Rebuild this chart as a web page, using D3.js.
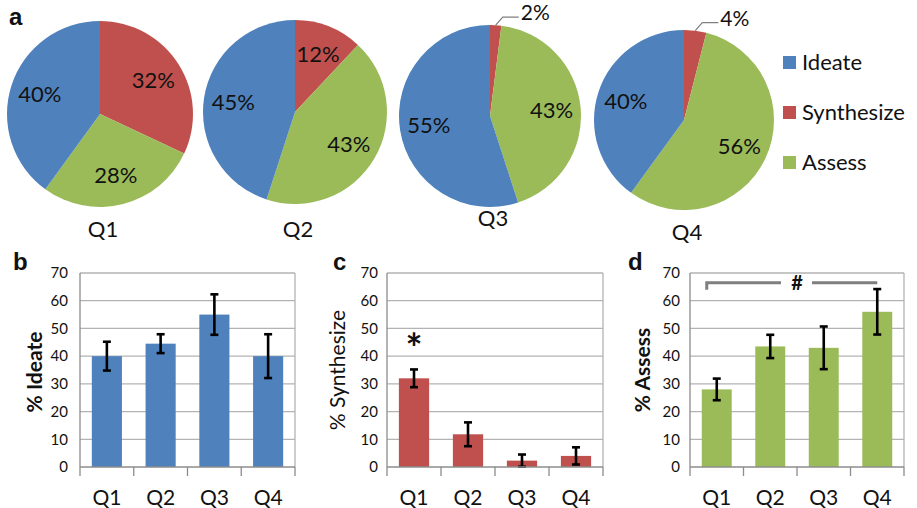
<!DOCTYPE html>
<html>
<head>
<meta charset="utf-8">
<script src="https://cdn.jsdelivr.net/npm/d3@7"></script>
<style>
  html, body { margin: 0; padding: 0; background: #fff; }
  svg { display: block; }
  text { font-family: Lato, "Open Sans", sans-serif; fill: #111; }
  .panel { font-family: "Liberation Sans", Arial, sans-serif; font-weight: bold; font-size: 24px; }
</style>
</head>
<body>
<svg id="chart" width="917" height="508"></svg>
<script>
// ---- data ----
const quarters = ["Q1", "Q2", "Q3", "Q4"];
const activities = ["Ideate", "Synthesize", "Assess"];

// share of each activity per question (pie charts), percent
const ideatePct = [40, 45, 55, 40];
const synthesizePct = [32, 12, 2, 4];
const assessPct = [28, 43, 43, 56];

// mean percent and error (±) per question (bar charts)
const ideateMean = [40, 44.5, 55, 40];
const ideateErr = [5.2, 3.4, 7.3, 7.9];
const synthesizeMean = [32, 11.8, 2.3, 4];
const synthesizeErr = [3.2, 4.3, 2.2, 3.1];
const assessMean = [28, 43.5, 43, 56];
const assessErr = [3.9, 4.2, 7.7, 8.2];

const yTicks = [0, 10, 20, 30, 40, 50, 60, 70];

const colors = { Ideate: "#4F81BD", Synthesize: "#C0504D", Assess: "#9BBB59" };

const svg = d3.select("#chart");

// ---- panel a: pie charts ----
const pieLayout = [
  { cx: 100, cy: 114, r: 93, labelY: 237 },
  { cx: 295, cy: 112, r: 92, labelY: 237 },
  { cx: 490, cy: 116, r: 91, labelY: 226 },
  { cx: 684, cy: 120, r: 90, labelY: 240 }
];

// clockwise from 12 o'clock: Synthesize, Assess, Ideate
const pie = d3.pie().sort(null).value(d => d.value);

quarters.forEach((q, i) => {
  const L = pieLayout[i];
  const slices = pie([
    { key: "Synthesize", value: synthesizePct[i] },
    { key: "Assess", value: assessPct[i] },
    { key: "Ideate", value: ideatePct[i] }
  ]);
  const g = svg.append("g").attr("transform", `translate(${L.cx},${L.cy})`);
  const arc = d3.arc().innerRadius(0).outerRadius(L.r);
  const labelArc = d3.arc().innerRadius(L.r * 0.68).outerRadius(L.r * 0.68);

  g.selectAll("path").data(slices).join("path")
    .attr("d", arc)
    .attr("fill", d => colors[d.data.key]);

  slices.forEach(d => {
    const txt = d.data.value + "%";
    if (d.data.value >= 8) {
      const [x, y] = labelArc.centroid(d);
      g.append("text").attr("x", x).attr("y", y).attr("dy", "0.35em")
        .attr("text-anchor", "middle").attr("font-size", 22).text(txt);
    } else {
      // small slice: label outside with a leader line
      const mid = (d.startAngle + d.endAngle) / 2;
      const x0 = Math.sin(mid) * L.r, y0 = -Math.cos(mid) * L.r;
      const x1 = x0 + 7, y1 = y0 - 8;
      const x2 = x1 + 16;
      const yl = Math.min(y1, -L.r - 1);
      g.append("path")
        .attr("d", `M${x0},${y0}L${x1},${yl}L${x2},${yl}`)
        .attr("fill", "none").attr("stroke", "#7f7f7f").attr("stroke-width", 1.2);
      g.append("text").attr("x", x2 + 2).attr("y", yl + 3)
        .attr("font-size", 21).text(txt);
    }
  });

  svg.append("text").attr("x", L.cx + 3).attr("y", L.labelY)
    .attr("text-anchor", "middle").attr("font-size", 22).text(q);
});

// legend
const legend = svg.append("g");
activities.forEach((a, i) => {
  const ly = 62 + i * 50;
  legend.append("rect").attr("x", 783).attr("y", ly - 6).attr("width", 13).attr("height", 13)
    .attr("fill", colors[a]);
  legend.append("text").attr("x", 802).attr("y", ly).attr("dy", "0.36em")
    .attr("font-size", 22).text(a);
});

svg.append("text").attr("class", "panel").attr("x", 9).attr("y", 25).text("a");

// ---- panels b, c, d: bar charts ----
const plotTop = 273, plotBottom = 467;
const y = d3.scaleLinear().domain([0, 70]).range([plotBottom, plotTop]);

function barChart(opts) {
  const x = d3.scaleBand().domain(quarters).range([opts.left, opts.right]).paddingInner(0.44).paddingOuter(0.22);
  const g = svg.append("g");

  // gridlines
  g.selectAll("line.grid").data(yTicks.filter(t => t > 0)).join("line")
    .attr("class", "grid")
    .attr("x1", opts.left).attr("x2", opts.right)
    .attr("y1", d => y(d)).attr("y2", d => y(d))
    .attr("stroke", "#b3b3b3").attr("stroke-width", 1.3);
  // right border of plot area
  g.append("line").attr("x1", opts.right).attr("x2", opts.right)
    .attr("y1", plotTop).attr("y2", plotBottom).attr("stroke", "#b3b3b3").attr("stroke-width", 1.3);

  // bars
  g.selectAll("rect.bar").data(quarters).join("rect")
    .attr("class", "bar")
    .attr("x", d => x(d)).attr("width", x.bandwidth())
    .attr("y", (d, i) => y(opts.mean[i]))
    .attr("height", (d, i) => plotBottom - y(opts.mean[i]))
    .attr("fill", opts.color);

  // error bars
  const eb = g.selectAll("g.err").data(quarters).join("g")
    .attr("class", "err")
    .attr("transform", d => `translate(${x(d) + x.bandwidth() / 2},0)`);
  eb.append("line")
    .attr("y1", (d, i) => y(opts.mean[i] - opts.err[i]))
    .attr("y2", (d, i) => y(opts.mean[i] + opts.err[i]))
    .attr("stroke", "#000").attr("stroke-width", 2.6);
  [-1, 1].forEach(s => {
    eb.append("line").attr("x1", -4).attr("x2", 4)
      .attr("y1", (d, i) => y(opts.mean[i] + s * opts.err[i]))
      .attr("y2", (d, i) => y(opts.mean[i] + s * opts.err[i]))
      .attr("stroke", "#000").attr("stroke-width", 2.6);
  });

  // y axis
  const yAxis = g.append("g").attr("transform", `translate(${opts.left},0)`)
    .call(d3.axisLeft(y).tickValues(yTicks).tickSize(0).tickPadding(opts.tickPad));
  yAxis.select(".domain").attr("stroke", "#8c8c8c").attr("stroke-width", 1.3)
    .attr("d", `M0,${plotTop}V${plotBottom + 9}`);
  yAxis.selectAll("text").attr("font-family", "Lato, sans-serif").attr("font-size", 15).attr("fill", "#111");

  // x axis with ticks between categories
  const xAxis = g.append("g").attr("transform", `translate(0,${plotBottom})`);
  xAxis.append("line").attr("x1", opts.left).attr("x2", opts.right)
    .attr("stroke", "#8c8c8c").attr("stroke-width", 1.3);
  const step = x.step();
  xAxis.selectAll("line.tk").data(quarters).join("line")
    .attr("class", "tk")
    .attr("x1", d => x(d) + x.bandwidth() / 2 + step / 2)
    .attr("x2", d => x(d) + x.bandwidth() / 2 + step / 2)
    .attr("y1", 0).attr("y2", 9).attr("stroke", "#8c8c8c").attr("stroke-width", 1.3);
  xAxis.selectAll("text.cat").data(quarters).join("text")
    .attr("class", "cat")
    .attr("x", d => x(d) + x.bandwidth() / 2).attr("y", 38)
    .attr("text-anchor", "middle").attr("font-size", 21).text(d => d);

  // y title
  svg.append("text")
    .attr("transform", `translate(${opts.titleX},${opts.titleY}) rotate(-90)`)
    .attr("text-anchor", "middle").attr("font-size", 21)
    .attr("font-weight", opts.titleWeight).text(opts.title);

  svg.append("text").attr("class", "panel").attr("x", opts.letterX).attr("y", 270).text(opts.letter);
  return x;
}

barChart({ left: 80, right: 295, mean: ideateMean, err: ideateErr, color: colors.Ideate,
  title: "% Ideate", titleX: 42, titleY: 372, titleWeight: "bold", letter: "b", letterX: 13, tickPad: 12 });

const xc = barChart({ left: 387, right: 603, mean: synthesizeMean, err: synthesizeErr, color: colors.Synthesize,
  title: "% Synthesize", titleX: 345, titleY: 370, titleWeight: "normal", letter: "c", letterX: 333, tickPad: 9 });

const xd = barChart({ left: 690, right: 904, mean: assessMean, err: assessErr, color: colors.Assess,
  title: "% Assess", titleX: 650, titleY: 370, titleWeight: "bold", letter: "d", letterX: 628, tickPad: 10 });

// significance marker over Synthesize Q1
svg.append("text")
  .attr("x", xc("Q1") + xc.bandwidth() / 2).attr("y", y(synthesizeMean[0] + 5.5))
  .attr("text-anchor", "middle").attr("font-family", "Liberation Sans, Arial, sans-serif")
  .attr("font-weight", "bold").attr("font-size", 40).text("*");

// bracket Q1..Q4 over Assess with "#"
const bx1 = xd("Q1") + xd.bandwidth() / 2 - 10;
const bx2 = xd("Q4") + xd.bandwidth() / 2;
const by = y(66.5);
const bmid = (bx1 + bx2) / 2 + 5;
svg.append("path")
  .attr("d", `M${bx1},${by + 7}V${by}H${bmid - 16}M${bmid + 15},${by}H${bx2}`)
  .attr("fill", "none").attr("stroke", "#7f7f7f").attr("stroke-width", 3);
svg.append("text").attr("x", bmid).attr("y", by + 7)
  .attr("text-anchor", "middle").attr("font-family", "Liberation Sans, Arial, sans-serif")
  .attr("font-weight", "bold").attr("font-size", 20).text("#");
</script>
</body>
</html>
